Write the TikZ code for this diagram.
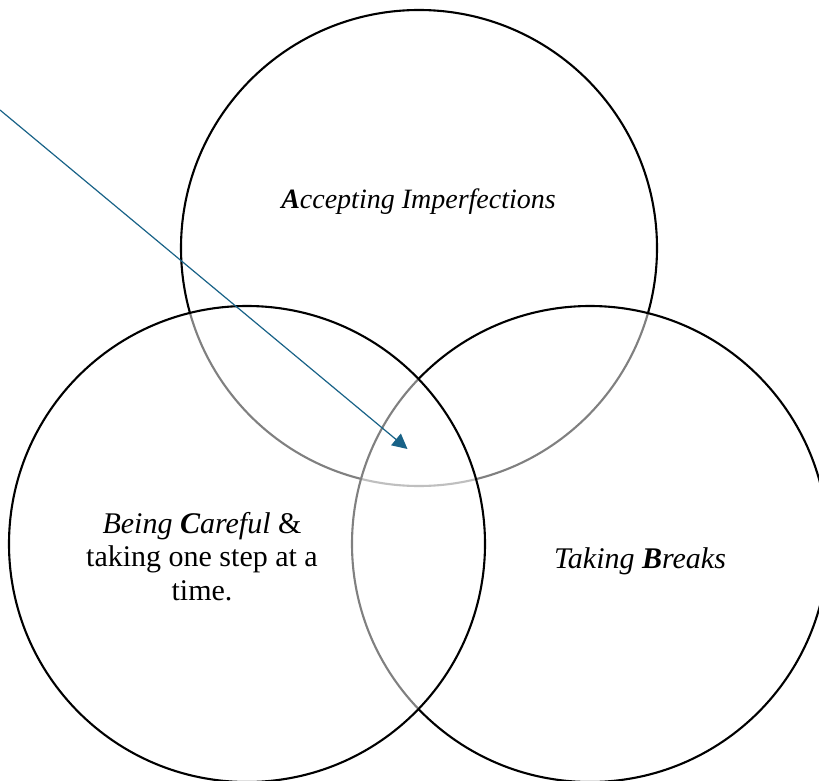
\documentclass[tikz,border=0pt]{standalone}
\usepackage{fontspec}
\setmainfont{Liberation Serif}
\usetikzlibrary{arrows.meta}
\definecolor{arrowblue}{RGB}{24,98,135}
\begin{document}
\begin{tikzpicture}[x=1pt,y=-1pt,
  ring/.style={circle, draw=black, line width=2.1pt, fill=white, fill opacity=0.5,
    text opacity=1, minimum size=476pt, inner sep=0pt},
  label/.style={font=\fontsize{30}{33.5}\selectfont, inner sep=0pt, align=center, anchor=base},
  pointer/.style={draw=arrowblue, line width=1.2pt, -{Triangle[length=15pt,width=15pt]}}]
  \useasboundingbox (0,0) rectangle (819,781);
  % the three overlapping sets: top first, then right, then left
  \node[ring] (setA) at (419,248) {};
  \node[ring] (setB) at (590,544) {};
  \node[ring] (setC) at (247,544) {};
  % set names (multi-line names are placed by their last baseline)
  \node[label, font=\fontsize{28}{32}\selectfont] (nameA) at (418.5,208) {\textit{\textbf{A}ccepting Imperfections}};
  \node[label] (nameB) at (640,568) {\textit{Taking \textbf{B}reaks}};
  \node[label] (nameC) at (202,600) {\textit{Being \textbf{C}areful} \&\\taking one step at a\\time.};
  % pointer into the common region
  \coordinate (tail) at (0,110);
  \coordinate (head) at (407.5,449);
  \draw[pointer] (tail) -- (head);
\end{tikzpicture}
\end{document}
